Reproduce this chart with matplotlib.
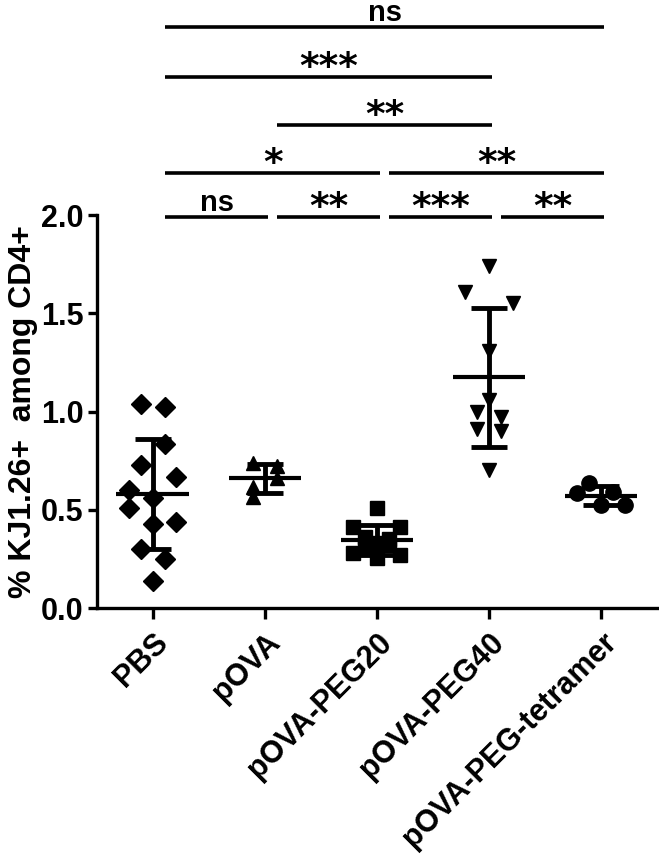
import numpy as np
import matplotlib.pyplot as plt

plt.rcParams['font.family'] = 'Liberation Sans'
plt.rcParams['font.weight'] = 'bold'

groups = ['PBS', 'pOVA', 'pOVA-PEG20', 'pOVA-PEG40', 'pOVA-PEG-tetramer']

# % KJ1.26+ among CD4+, one value per animal
pbs = [1.04, 1.025, 0.835, 0.73, 0.665, 0.60, 0.51, 0.56, 0.43, 0.44, 0.30, 0.25, 0.135]
pova = [0.74, 0.725, 0.66, 0.615, 0.565]
peg20 = [0.51, 0.41, 0.41, 0.36, 0.35, 0.33, 0.31, 0.28, 0.27, 0.255, 0.32]
peg40 = [1.74, 1.61, 1.55, 1.31, 1.06, 1.0, 0.97, 0.91, 0.90, 0.70]
tetramer = [0.635, 0.585, 0.59, 0.525, 0.525]

# horizontal slot of each point (scatter spread)
pbs_slot = [-1, 1, 1, -1, 2, -2, -2, 0, 0, 2, -1, 1, 0]
pova_slot = [-1, 1, 1, -1, -1]
peg20_slot = [0, -2, 2, -1, 1, 0, -1, -2, 2, 0, 1]
peg40_slot = [0, -2, 2, 0, 0, -1, 1, -1, 1, 0]
tetramer_slot = [-1, -2, 1, 0, 2]

data = [pbs, pova, peg20, peg40, tetramer]
slots = [pbs_slot, pova_slot, peg20_slot, peg40_slot, tetramer_slot]
markers = ['D', '^', 's', 'v', 'o']
msizes = [10.5, 10.5, 10.5, 10.5, 11]

# significance brackets: (group a, group b), row, label
pairs = [(0, 1), (1, 2), (2, 3), (3, 4), (0, 2), (2, 4), (1, 3), (0, 3), (0, 4)]
rows = [0, 0, 0, 0, 1, 1, 2, 3, 4]
sig = ['ns', '**', '***', '**', '*', '**', '**', '***', 'ns']
row_y = [1.99, 2.214, 2.458, 2.702, 2.957]

fig = plt.figure(figsize=(6.59, 8.56), dpi=100)
ax = fig.add_axes([0.147, 0.2897, 0.85, 0.4591])

for i, (vals, sl) in enumerate(zip(data, slots)):
    vals = np.array(vals)
    xs = i + 0.105 * np.array(sl)
    ax.plot(xs, vals, linestyle='none', marker=markers[i], ms=msizes[i],
            color='black', mec='black', zorder=3, clip_on=False)
    m = vals.mean()
    sd = vals.std(ddof=1)
    ax.hlines(m, i - 0.325, i + 0.325, color='black', lw=3, zorder=4)
    ax.errorbar(i, m, yerr=sd, fmt='none', ecolor='black', elinewidth=3.5,
                capsize=13, capthick=3.5, zorder=4)

for (a, b), r, s in zip(pairs, rows, sig):
    y = row_y[r]
    ax.plot([a + 0.11, b + 0.03], [y, y], color='black', lw=2.6,
            clip_on=False, solid_capstyle='butt')
    xm = (a + 0.11 + b + 0.03) / 2
    if s == 'ns':
        ax.text(xm, y + 0.03, s, ha='center', va='baseline', fontsize=21,
                fontweight='bold', clip_on=False)
    else:
        ax.text(xm, y - 0.005, s, ha='center', va='baseline', fontsize=27,
                fontweight='bold', family='DejaVu Sans', clip_on=False)

ax.set_xlim(-0.5, 4.5)
ax.set_ylim(0, 2.0)
ax.set_yticks([0, 0.5, 1.0, 1.5, 2.0])
ax.set_yticklabels(['0.0', '0.5', '1.0', '1.5', '2.0'])
ax.set_xticks(range(5))
ax.set_xticklabels(groups, rotation=45, ha='right', rotation_mode='anchor')
ax.set_ylabel('% KJ1.26+  among CD4+', fontsize=23, fontweight='bold', labelpad=2)

ax.spines['top'].set_visible(False)
ax.spines['right'].set_visible(False)
for sp in ['left', 'bottom']:
    ax.spines[sp].set_linewidth(2.4)
ax.tick_params(axis='both', width=2.4, labelsize=22)
ax.tick_params(axis='y', length=6.5, pad=3)
ax.tick_params(axis='x', length=8, pad=6)

fig.savefig('out.png', dpi=100)
